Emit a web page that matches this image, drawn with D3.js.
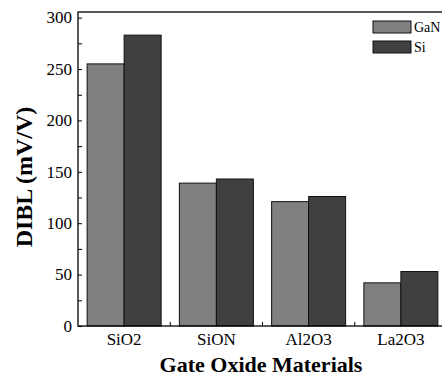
<!DOCTYPE html>
<html>
<head>
<meta charset="utf-8">
<script src="https://cdn.jsdelivr.net/npm/d3@7"></script>
<style>
  body { margin: 0; background: #fff; }
  text { fill: #000; }
</style>
</head>
<body>
<svg id="chart" width="442" height="385"></svg>
<script>
  'use strict';

  var materials = ['SiO2', 'SiON', 'Al2O3', 'La2O3'];
  var seriesNames = ['GaN', 'Si'];
  var ganValues = [255, 139, 121, 42];
  var siValues = [283, 143, 126, 53];
  var yTicks = [0, 50, 100, 150, 200, 250, 300];
  var colors = { GaN: '#808080', Si: '#404040' };

  (function() {
    var serif = '"Liberation Serif", "Times New Roman", Times, serif';
    var rows = materials.map(function(m, i) {
      return { material: m, GaN: ganValues[i], Si: siValues[i] };
    });

    var svg = d3.select('#chart').attr('font-family', serif);
    var plotLeft = 78, plotRight = 447, plotTop = 12, plotBottom = 326;

    var x = d3.scaleBand().domain(materials).range([plotLeft, plotRight]);
    var inner = d3.scaleBand().domain(seriesNames).range([0, 74]);
    var y = d3.scaleLinear().domain([0, 305.5]).range([plotBottom, plotTop]);

    // bars
    var groups = svg.append('g').selectAll('g')
      .data(rows)
      .enter().append('g')
      .attr('transform', function(d) {
        return 'translate(' + (x(d.material) + (x.bandwidth() - 74) / 2) + ',0)';
      });

    groups.selectAll('rect')
      .data(function(d) {
        return seriesNames.map(function(s) { return { key: s, value: d[s] }; });
      })
      .enter().append('rect')
      .attr('x', function(d) { return inner(d.key); })
      .attr('y', function(d) { return y(d.value); })
      .attr('width', inner.bandwidth())
      .attr('height', function(d) { return y(0) - y(d.value); })
      .attr('fill', function(d) { return colors[d.key]; })
      .attr('stroke', '#111')
      .attr('stroke-width', 1);

    // frame
    svg.append('rect')
      .attr('x', plotLeft).attr('y', plotTop)
      .attr('width', plotRight - plotLeft).attr('height', plotBottom - plotTop)
      .attr('fill', 'none').attr('stroke', '#000').attr('stroke-width', 1.3);

    // y axis: inward ticks, minor every 25
    var yAxis = d3.axisRight(y)
      .tickValues(d3.range(0, 301, 25))
      .tickSize(4)
      .tickFormat('');
    svg.append('g')
      .attr('transform', 'translate(' + plotLeft + ',0)')
      .call(yAxis)
      .call(function(g) {
        g.select('.domain').remove();
        g.selectAll('line').attr('stroke', '#000').attr('stroke-width', 1);
      });

    svg.append('g').selectAll('text')
      .data(yTicks)
      .enter().append('text')
      .attr('x', plotLeft - 6)
      .attr('y', function(d) { return y(d); })
      .attr('dy', '0.34em')
      .attr('text-anchor', 'end')
      .attr('font-family', serif)
      .style('font-size', '17px')
      .text(function(d) { return d; });

    // x axis: upward ticks between groups
    var boundaries = materials.slice(1).map(function(m) { return x(m); });
    svg.append('g').selectAll('line')
      .data(boundaries)
      .enter().append('line')
      .attr('x1', function(d) { return d; })
      .attr('x2', function(d) { return d; })
      .attr('y1', plotBottom)
      .attr('y2', plotBottom - 4)
      .attr('stroke', '#000');

    svg.append('g').selectAll('text')
      .data(materials)
      .enter().append('text')
      .attr('x', function(d) { return x(d) + x.bandwidth() / 2; })
      .attr('y', 345)
      .attr('text-anchor', 'middle')
      .attr('font-family', serif)
      .style('font-size', '17px')
      .text(function(d) { return d; });

    // axis titles
    svg.append('text')
      .attr('x', 261)
      .attr('y', 372)
      .attr('text-anchor', 'middle')
      .attr('font-family', serif)
      .style('font-size', '22px')
      .style('font-weight', 'bold')
      .text('Gate Oxide Materials');

    svg.append('text')
      .attr('transform', 'translate(32,177) rotate(-90)')
      .attr('text-anchor', 'middle')
      .attr('font-family', serif)
      .style('font-size', '24px')
      .style('font-weight', 'bold')
      .text('DIBL (mV/V)');

    // legend
    var legend = svg.append('g').selectAll('g')
      .data(seriesNames)
      .enter().append('g')
      .attr('transform', function(d, i) { return 'translate(373,' + (21 + i * 20) + ')'; });

    legend.append('rect')
      .attr('width', 38).attr('height', 12)
      .attr('fill', function(d) { return colors[d]; })
      .attr('stroke', '#111').attr('stroke-width', 1);

    legend.append('text')
      .attr('x', 41).attr('y', 11)
      .attr('font-family', serif)
      .style('font-size', '14px')
      .text(function(d) { return d; });
  })();
</script>
</body>
</html>
